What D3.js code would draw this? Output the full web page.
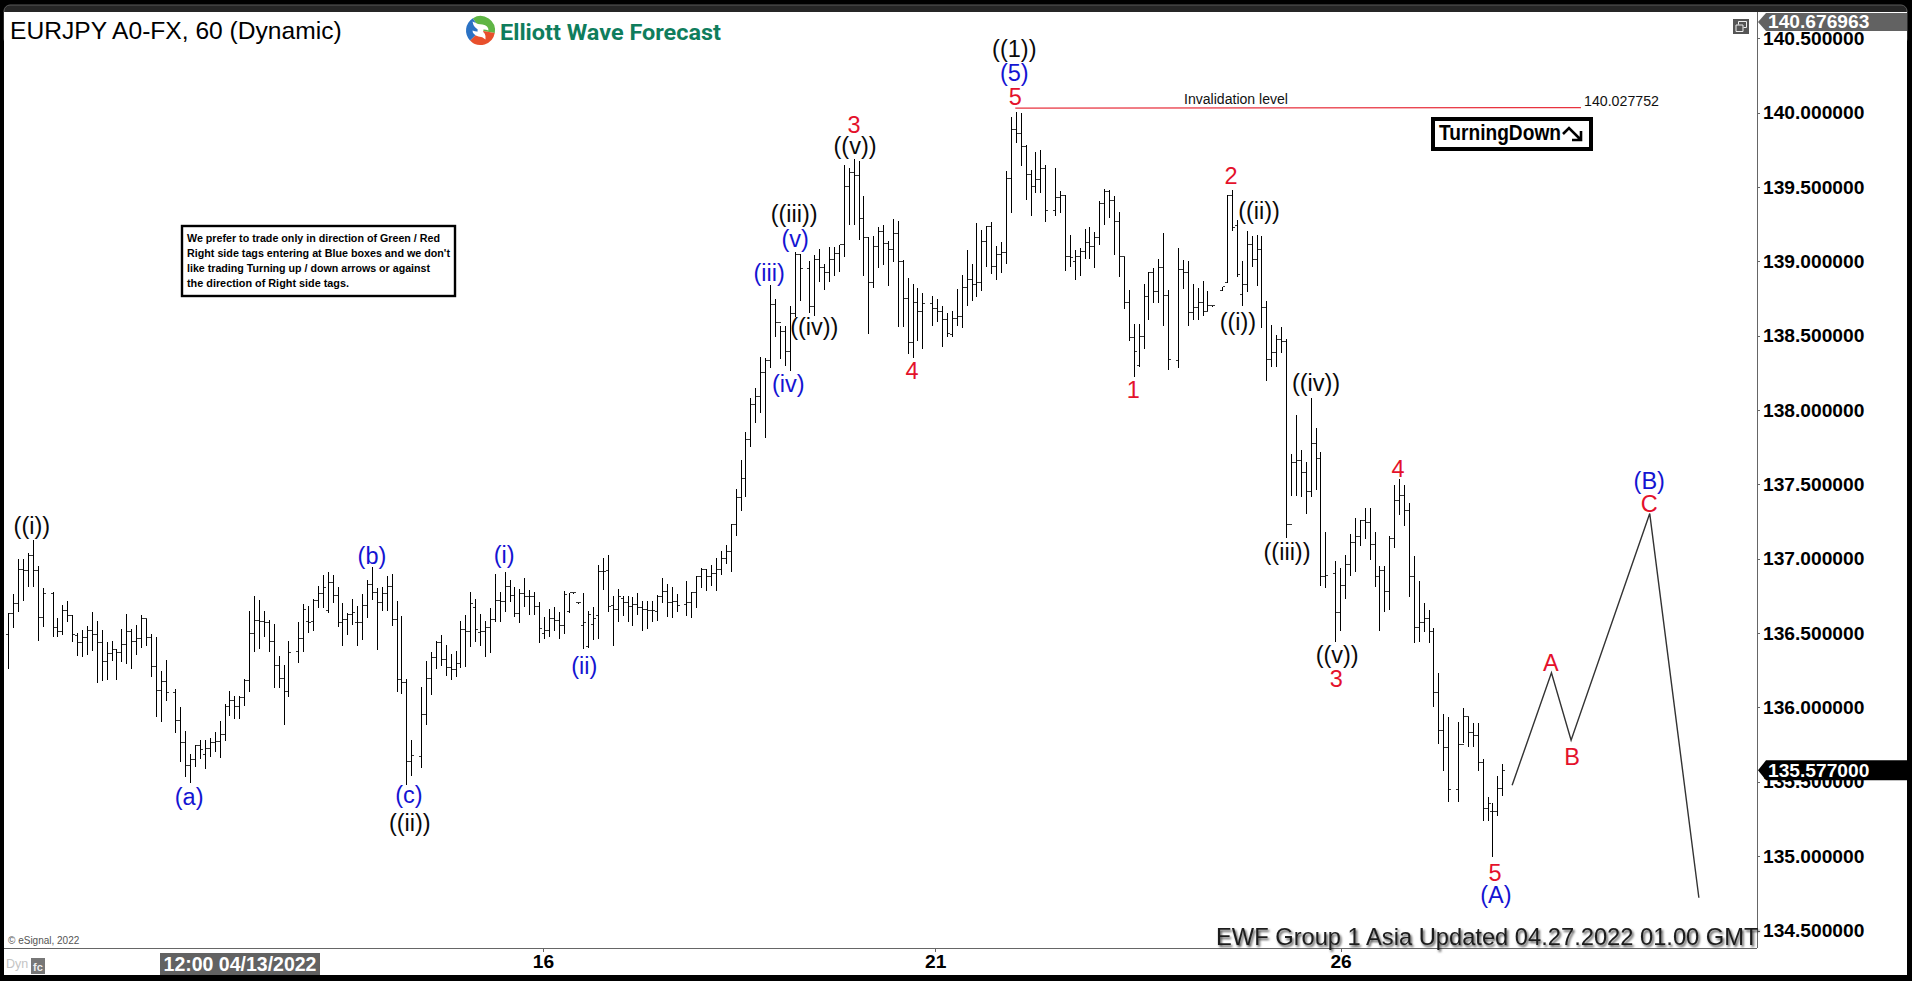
<!DOCTYPE html>
<html>
<head>
<meta charset="utf-8">
<title>EURJPY A0-FX, 60</title>
<script src="https://cdn.jsdelivr.net/npm/d3@7"></script>
<style>
  html, body { margin: 0; padding: 0; background: #000; overflow: hidden; }
  svg { display: block; }
  text { font-family: "Liberation Sans", Arial, sans-serif; }
</style>
</head>
<body>
<svg id="chart" width="1912" height="981"></svg>
<script>
// hourly bars, index 0 = first bar on the left, null = no bar on that slot
const barHigh = [
  136.636,136.763,136.999,136.999,137.039,137.129,136.954,136.804,null,136.775,
  136.602,136.692,136.714,136.624,136.501,136.524,136.550,136.642,136.584,136.524,
  136.441,136.450,136.394,136.530,136.629,136.530,136.557,136.624,136.597,136.494,
  136.474,136.243,136.322,null,136.125,136.004,135.840,135.690,135.750,135.780,
  135.784,135.795,135.836,135.912,136.024,136.113,136.075,136.075,136.194,136.651,
  136.752,136.725,136.651,136.591,136.564,136.344,136.288,136.450,null,136.575,
  136.698,136.685,136.732,136.819,136.889,136.911,136.893,136.808,136.703,136.636,
  136.732,136.680,136.763,136.860,136.945,136.804,136.810,136.882,136.898,136.719,
  136.613,136.194,135.784,null,136.138,136.315,136.373,136.450,136.490,136.423,
  136.362,136.382,136.584,136.624,136.777,136.732,136.629,136.584,136.669,136.898,
  136.779,136.911,136.860,136.810,136.799,136.871,136.792,136.777,136.712,136.609,
  136.662,136.678,136.645,136.784,136.770,136.770,136.703,136.770,136.649,136.678,
  136.961,137.005,137.028,136.752,136.799,136.748,136.748,136.743,136.770,136.719,
  136.714,136.719,136.759,136.871,136.833,136.810,136.766,null,136.851,136.777,
  136.887,136.938,136.934,136.958,137.005,137.055,137.095,137.234,137.472,137.667,
  137.853,138.082,138.149,138.357,138.351,138.843,138.747,138.563,138.563,138.702,
  139.061,139.050,null,139.001,139.041,139.084,138.985,139.097,139.097,139.113,
  139.651,139.628,139.691,139.673,139.442,139.162,139.173,139.229,139.247,139.135,
  139.285,139.270,139.008,138.889,138.849,138.822,138.784,null,138.770,138.750,
  138.703,138.654,138.663,138.817,138.909,139.079,138.985,139.259,139.209,139.241,
  139.265,139.102,139.133,139.610,139.971,140.007,139.998,139.781,139.617,139.736,
  139.749,139.649,null,139.628,139.472,139.447,139.176,139.073,139.091,139.218,
  139.232,139.198,139.404,139.489,139.478,139.442,139.333,139.028,138.810,138.582,
  138.582,138.849,138.929,138.956,139.017,139.191,138.810,null,139.090,139.011,
  139.005,138.850,138.823,138.866,138.803,138.702,null,138.828,139.448,139.482,
  139.276,139.005,139.206,139.168,139.180,139.173,138.736,138.575,138.507,138.559,
  138.480,137.705,137.969,137.734,137.651,138.081,137.879,137.716,137.180,null,
  136.988,136.938,137.026,137.167,137.274,137.263,137.342,137.342,137.180,136.949,
  136.949,137.151,137.498,137.537,137.498,137.375,137.017,136.851,136.703,136.658,
  136.535,136.232,135.957,135.937,null,135.903,135.999,135.937,135.896,135.896,
  135.650,135.399,135.358,135.542,135.623
];
const barLow = [
  136.266,136.539,136.647,136.725,136.815,136.815,136.456,136.546,null,136.479,
  136.479,136.494,136.580,136.445,136.355,136.344,136.362,136.389,136.169,136.187,
  136.194,136.322,136.194,136.311,136.299,136.264,136.362,136.405,136.418,136.210,
  135.945,135.907,136.053,null,135.833,135.638,135.538,135.497,135.605,135.661,
  135.591,135.672,135.706,135.665,135.780,135.952,135.932,135.927,136.015,136.109,
  136.382,136.400,136.479,136.378,136.138,136.138,135.892,136.075,null,136.304,
  136.378,136.506,136.519,136.674,136.674,136.640,136.707,136.546,136.423,136.497,
  136.562,136.423,136.461,136.609,136.730,136.396,136.658,136.654,136.557,136.109,
  136.098,135.486,135.546,null,135.598,135.892,136.093,136.266,136.284,136.221,
  136.194,136.210,136.270,136.282,136.411,136.445,136.423,136.344,136.376,136.580,
  136.580,136.647,136.714,136.613,136.573,136.680,136.627,136.627,136.438,136.468,
  136.479,136.524,136.465,136.503,136.640,136.770,136.703,136.398,136.405,136.463,
  136.465,136.795,136.647,136.423,136.580,136.624,136.580,136.557,136.627,136.519,
  136.537,136.580,136.586,136.707,136.618,136.606,136.647,null,136.624,136.606,
  136.674,136.808,136.788,136.824,136.788,136.896,136.972,136.916,137.162,137.326,
  137.420,137.756,137.918,137.985,137.817,138.290,138.496,138.351,138.306,138.267,
  138.630,138.738,null,138.658,138.642,138.866,138.817,138.866,138.911,138.938,
  139.034,139.252,139.254,139.153,138.911,138.515,138.828,138.961,138.985,138.844,
  139.001,138.564,138.568,138.385,138.355,138.470,138.414,null,138.575,138.597,
  138.434,138.497,138.497,138.575,138.557,138.705,138.743,138.766,138.806,138.967,
  138.922,138.878,138.927,138.990,139.330,139.803,139.646,139.420,139.315,139.465,
  139.465,139.270,null,139.310,139.330,138.940,138.967,138.878,138.911,139.023,
  139.023,138.961,139.117,139.254,139.297,139.052,138.900,138.683,138.470,138.228,
  138.295,138.414,138.609,138.725,138.725,138.575,138.273,null,138.288,138.821,
  138.574,138.615,138.615,138.642,138.675,138.702,null,138.805,138.859,139.213,
  138.899,138.704,138.799,138.967,138.843,138.557,138.200,138.294,138.294,138.388,
  137.147,137.431,137.431,137.420,137.308,137.425,137.469,136.826,136.808,null,
  136.445,136.524,136.734,136.889,136.916,137.095,137.140,137.001,136.815,136.519,
  136.647,136.665,137.077,137.299,137.225,136.748,136.441,136.445,136.517,136.438,
  136.008,135.762,135.578,135.370,null,135.370,135.766,135.739,135.744,135.582,
  135.246,135.242,135.000,135.275,135.410
];
const barOpen = [
  136.490,136.629,136.696,136.931,136.922,137.019,136.922,136.602,null,136.763,
  136.535,136.512,136.654,136.618,136.483,136.434,136.468,136.519,136.490,136.434,
  136.311,136.360,136.389,136.367,136.423,136.508,136.441,136.461,136.597,136.468,
  136.277,136.116,136.172,null,136.098,135.914,135.766,135.609,135.650,135.744,
  135.683,135.721,135.762,135.773,135.818,136.008,136.048,136.008,136.064,136.181,
  136.494,136.586,136.580,136.568,136.445,136.281,136.192,136.104,null,136.373,
  136.461,136.580,136.580,136.719,136.763,136.654,136.842,136.752,136.573,136.591,
  136.624,136.573,136.573,136.687,136.826,136.775,136.707,136.766,136.815,136.591,
  136.187,136.165,135.634,null,135.668,135.952,136.194,136.338,136.438,136.322,
  136.266,136.255,136.293,136.524,136.512,136.669,136.506,136.512,136.535,136.591,
  136.721,136.710,136.815,136.752,136.631,136.763,136.743,136.743,136.676,136.497,
  136.519,136.595,136.586,136.553,136.647,136.770,136.703,136.550,136.411,136.557,
  136.618,136.911,136.920,136.685,136.658,136.736,136.703,136.680,136.689,136.669,
  136.658,136.654,136.642,136.743,136.781,136.707,136.714,null,136.692,136.703,
  136.775,136.878,136.931,136.878,136.898,136.927,137.003,137.052,137.229,137.415,
  137.539,137.801,138.035,138.090,138.250,138.332,138.709,138.590,138.527,138.395,
  138.650,139.045,null,138.949,138.694,139.012,138.961,138.927,139.012,139.050,
  139.113,139.501,139.595,139.577,139.285,139.162,138.855,139.102,139.198,139.117,
  139.079,139.185,138.996,138.748,138.452,138.721,138.660,null,138.714,138.680,
  138.660,138.609,138.508,138.613,138.631,138.822,138.878,138.844,138.860,139.131,
  139.232,138.963,139.046,139.057,139.554,139.886,139.859,139.774,139.584,139.505,
  139.550,139.622,null,139.344,139.427,139.442,139.030,139.001,139.034,139.068,
  139.129,139.097,139.158,139.386,139.471,139.409,139.270,139.030,138.725,138.485,
  138.299,138.497,138.766,138.927,138.799,138.961,138.770,null,138.332,138.944,
  138.922,138.657,138.693,138.725,138.664,138.702,null,138.805,138.859,139.444,
  139.240,138.776,138.843,139.112,139.011,139.079,138.687,138.339,138.388,138.474,
  138.462,137.230,137.649,137.662,137.577,137.449,137.772,137.673,136.878,null,
  136.898,136.636,136.819,136.961,137.106,137.147,137.256,137.247,137.095,136.882,
  136.920,136.777,137.133,137.391,137.427,137.326,136.878,136.535,136.568,136.598,
  136.512,136.098,135.845,135.728,null,135.448,135.751,135.937,135.829,135.811,
  135.627,135.318,135.302,135.302,135.452
];
const barClose = [
  136.629,136.696,136.931,136.922,137.019,136.922,136.602,136.763,null,136.535,
  136.512,136.654,136.618,136.490,136.434,136.468,136.519,136.490,136.434,136.311,
  136.360,136.389,136.367,136.423,136.508,136.441,136.461,136.597,136.468,136.277,
  136.116,136.172,136.098,null,135.914,135.766,135.609,135.650,135.744,135.717,
  135.721,135.762,135.773,135.818,136.008,136.048,136.008,136.064,136.181,136.494,
  136.586,136.580,136.568,136.445,136.281,136.192,136.104,136.367,null,136.461,
  136.662,136.573,136.719,136.763,136.804,136.842,136.752,136.573,136.591,136.624,
  136.636,136.573,136.687,136.826,136.775,136.707,136.766,136.815,136.591,136.187,
  136.165,135.634,135.676,null,135.952,136.194,136.338,136.438,136.322,136.266,
  136.255,136.293,136.524,136.512,136.696,136.524,136.512,136.535,136.591,136.721,
  136.710,136.815,136.752,136.631,136.763,136.743,136.743,136.676,136.528,136.519,
  136.595,136.586,136.553,136.759,136.770,136.770,136.703,136.568,136.624,136.595,
  136.911,136.916,136.680,136.658,136.748,136.703,136.680,136.689,136.669,136.658,
  136.654,136.654,136.743,136.781,136.707,136.714,136.687,null,136.703,136.775,
  136.882,136.931,136.878,136.898,136.927,137.003,137.052,137.229,137.415,137.539,
  137.801,138.035,138.090,138.250,138.332,138.709,138.590,138.527,138.395,138.650,
  139.045,138.949,null,138.694,139.012,138.961,138.927,139.012,139.050,139.113,
  139.501,139.595,139.577,139.285,139.162,138.855,139.102,139.198,139.117,139.079,
  139.185,138.996,138.748,138.452,138.721,138.660,138.714,null,138.680,138.660,
  138.609,138.512,138.613,138.631,138.822,138.878,138.844,138.860,139.131,139.232,
  138.963,139.046,139.057,139.554,139.886,139.859,139.774,139.584,139.505,139.550,
  139.622,139.339,null,139.427,139.442,139.030,139.028,139.034,139.068,139.129,
  139.097,139.158,139.386,139.471,139.409,139.270,139.030,138.725,138.485,138.396,
  138.497,138.766,138.927,138.799,138.961,138.770,138.340,null,138.944,138.922,
  138.657,138.693,138.725,138.664,138.702,138.702,null,138.828,139.444,139.231,
  138.911,138.843,139.112,139.011,139.079,138.687,138.339,138.388,138.474,138.462,
  137.230,137.649,137.662,137.577,137.449,137.772,137.673,136.878,136.887,null,
  136.636,136.819,136.961,137.106,137.147,137.256,137.247,137.095,136.882,136.920,
  136.777,137.133,137.391,137.427,137.326,136.878,136.535,136.568,136.598,136.512,
  136.098,135.845,135.728,135.448,null,135.751,135.937,135.829,135.811,135.627,
  135.318,135.354,135.302,135.452,135.576
];

// projected path after the last bar, [bar index, price]
const projectionIndex = [306, 314, 318, 334, 344];
const projectionPrice = [135.477, 136.233, 135.780, 137.304, 134.720];

// wave counts: [label, bar index, price]
const blackWaves = [
  ["((i))", 4.8, 137.223], ["((ii))", 81.7, 135.226], ["((iii))", 159.9, 139.321],
  ["((iv))", 164, 138.561], ["((v))", 172.3, 139.778], ["((1))", 204.7, 140.430],
  ["((i))", 250.2, 138.595], ["((ii))", 254.5, 139.341], ["((iv))", 266.1, 138.185],
  ["((iii))", 260.2, 137.048], ["((v))", 270.4, 136.356]
];
const blueWaves = [
  ["(a)", 36.8, 135.401], ["(b)", 74, 137.021], ["(c)", 81.5, 135.414],
  ["(i)", 100.9, 137.028], ["(ii)", 117.2, 136.282], ["(iii)", 154.8, 138.924],
  ["(iv)", 158.7, 138.178], ["(v)", 160.1, 139.153], ["(5)", 204.7, 140.269],
  ["(A)", 302.7, 134.742], ["(B)", 333.9, 137.526]
];
const redWaves = [
  ["3", 172.1, 139.919], ["4", 183.9, 138.265], ["5", 204.9, 140.108],
  ["1", 228.9, 138.137], ["2", 248.8, 139.576], ["3", 270.2, 136.194],
  ["4", 282.8, 137.606], ["5", 302.5, 134.890], ["A", 313.9, 136.302],
  ["B", 318.2, 135.670], ["C", 333.9, 137.371]
];

const priceTicks = [134.5, 135, 135.5, 136, 136.5, 137, 137.5, 138, 138.5, 139, 139.5, 140, 140.5];
const dayTickIndex = [108.8, 188.6, 271.1];
const dayTickLabels = ["16", "21", "26"];

const invalidationPrice = 140.027752;
const invalidationFrom = 204.9;
const invalidationTo = 320;
const lastPrice = 135.577;
const topPrice = 140.676963;

const noteLines = [
  "We prefer to trade only in direction of Green / Red",
  "Right side tags entering at Blue boxes and we don't",
  "like trading Turning up / down arrows or against",
  "the direction of Right side tags."
];

// Initial values
const plotLeft = 4,
  plotRight = 1757,
  panelRight = 1907,
  plotTop = 12,
  plotBottom = 948,
  panelBottom = 975,
  tickHalf = 2.4,
  waveFontSize = 23.5,
  noteWidths = [253, 263, 243, 162], // measured line widths, the box font runs narrow
  axisGrey = "#666",
  tagGrey = "#626262",
  blue = "#1414d2",
  red = "#e4112b";

const xScale = d3.scaleLinear().domain([0, 304]).range([8.3, 1502.3]);
const yScale = d3.scaleLinear().domain([134.5, 140.5]).range([930.5, 38.3]);

const svg = d3.select("#chart");

// Window frame
svg.append("rect").attr("x", 0).attr("y", 0).attr("width", 1912).attr("height", 981).attr("fill", "#000");
svg.append("rect")
  .attr("x", plotLeft).attr("y", 5)
  .attr("width", panelRight - plotLeft).attr("height", 40).attr("rx", 6)
  .attr("fill", "#262626").attr("stroke", "#5a5a5a").attr("stroke-width", 1);
svg.append("rect")
  .attr("x", plotLeft).attr("y", plotTop)
  .attr("width", panelRight - plotLeft).attr("height", panelBottom - plotTop)
  .attr("fill", "#fff");

// Axes
const yAxis = d3.axisRight(yScale)
  .tickValues(priceTicks)
  .tickFormat(d3.format(".6f"))
  .tickSize(3)
  .tickPadding(3);

const yAxisG = svg.append("g").attr("transform", "translate(" + plotRight + ",0)").call(yAxis);
yAxisG.select(".domain").remove();
yAxisG.selectAll("line").attr("stroke", axisGrey).attr("shape-rendering", "crispEdges");
yAxisG.selectAll("text")
  .attr("fill", "#000")
  .attr("font-size", 19.2)
  .attr("font-weight", "bold")
  .style("font-family", '"Liberation Sans", Arial, sans-serif');

const xAxis = d3.axisBottom(xScale)
  .tickValues(dayTickIndex)
  .tickFormat((d, i) => dayTickLabels[i])
  .tickSize(4)
  .tickPadding(2);

const xAxisG = svg.append("g").attr("transform", "translate(0," + plotBottom + ")").call(xAxis);
xAxisG.select(".domain").remove();
xAxisG.selectAll("line").attr("stroke", axisGrey).attr("shape-rendering", "crispEdges");
xAxisG.selectAll("text")
  .attr("fill", "#000")
  .attr("font-size", 19.2)
  .attr("font-weight", "bold")
  .style("font-family", '"Liberation Sans", Arial, sans-serif');

svg.append("line")
  .attr("x1", plotRight).attr("x2", plotRight)
  .attr("y1", plotTop).attr("y2", plotBottom)
  .attr("stroke", axisGrey).attr("shape-rendering", "crispEdges");
svg.append("line")
  .attr("x1", plotLeft).attr("x2", plotRight)
  .attr("y1", plotBottom).attr("y2", plotBottom)
  .attr("stroke", axisGrey).attr("shape-rendering", "crispEdges");

// Bars
const bars = barHigh
  .map((high, i) => ({ i: i, high: high, low: barLow[i], open: barOpen[i], close: barClose[i] }))
  .filter(d => d.high !== null);

const barX = d => Math.round(xScale(d.i)) + 0.5;

// Open / close ticks go first and a shade lighter, the stems sit on top
svg.append("g")
  .attr("stroke", "#3a3a3a")
  .attr("stroke-width", 1)
  .attr("fill", "none")
  .attr("shape-rendering", "crispEdges")
  .selectAll("path")
  .data(bars)
  .enter()
  .append("path")
  .attr("d", d =>
    "M" + (barX(d) - tickHalf) + "," + yScale(d.open) + "H" + barX(d) +
    "M" + barX(d) + "," + yScale(d.close) + "H" + (barX(d) + tickHalf));

svg.append("g")
  .attr("stroke", "#000")
  .attr("stroke-width", 1)
  .attr("shape-rendering", "crispEdges")
  .selectAll("line")
  .data(bars)
  .enter()
  .append("line")
  .attr("x1", barX)
  .attr("x2", barX)
  .attr("y1", d => yScale(d.high))
  .attr("y2", d => yScale(d.low) + 1);

// Projection
const projectionLine = d3.line()
  .x(d => xScale(d[0]))
  .y(d => yScale(d[1]));

svg.append("path")
  .datum(projectionIndex.map((v, i) => [v, projectionPrice[i]]))
  .attr("d", projectionLine)
  .attr("fill", "none")
  .attr("stroke", "#333")
  .attr("stroke-width", 1.4);

// Invalidation level
svg.append("line")
  .attr("x1", xScale(invalidationFrom)).attr("x2", xScale(invalidationTo))
  .attr("y1", yScale(invalidationPrice) - 0.4).attr("y2", yScale(invalidationPrice) - 0.9)
  .attr("stroke", "#e8333f")
  .attr("stroke-width", 1.2);
svg.append("text")
  .attr("x", 1236).attr("y", 99)
  .attr("text-anchor", "middle").attr("dominant-baseline", "central")
  .attr("font-size", 14).attr("textLength", 104).attr("lengthAdjust", "spacingAndGlyphs")
  .attr("fill", "#111")
  .text("Invalidation level");
svg.append("text")
  .attr("x", 1584).attr("y", 101)
  .attr("dominant-baseline", "central")
  .attr("font-size", 14.2).attr("fill", "#111")
  .text(d3.format(".6f")(invalidationPrice));

// Wave labels
const drawWaves = (rows, color) => {
  svg.append("g")
    .selectAll("text")
    .data(rows)
    .enter()
    .append("text")
    .attr("x", d => xScale(d[1]))
    .attr("y", d => yScale(d[2]))
    .attr("text-anchor", "middle")
    .attr("dominant-baseline", "central")
    .attr("font-size", waveFontSize)
    .attr("fill", color)
    .text(d => d[0]);
};
drawWaves(blackWaves, "#0a0a0a");
drawWaves(blueWaves, blue);
drawWaves(redWaves, red);

// Title and logo
svg.append("text")
  .attr("x", 10).attr("y", 30)
  .attr("dominant-baseline", "central")
  .attr("font-size", 24.6).attr("fill", "#000")
  .text("EURJPY A0-FX, 60 (Dynamic)");

// three blades with a white swirl cut through them
const logoArc = d3.arc().innerRadius(3).outerRadius(14.5);
const logoG = svg.append("g").attr("transform", "translate(480.5,30.5)");
[[-0.55, 1.75, "#5fb545"], [1.75, 3.95, "#e8502c"], [3.95, 5.73, "#2b72c4"]].forEach(seg => {
  logoG.append("path")
    .attr("d", logoArc({ startAngle: seg[0], endAngle: seg[1] }))
    .attr("fill", seg[2]);
});
logoG.append("path")
  .attr("d", "M0,0Q-7,-2 -8,-9Q-3,-6 2,-6Q8,-5 8,0Q3,-2 0,0M0,0Q6,2 5,9Q2,6 -2,6Q-8,4 -8,0Q-3,2 0,0")
  .attr("fill", "#fff");

svg.append("text")
  .attr("x", 500).attr("y", 32)
  .attr("dominant-baseline", "central")
  .attr("font-size", 22).attr("font-weight", "bold")
  .attr("textLength", 221).attr("lengthAdjust", "spacingAndGlyphs")
  .attr("fill", "#0f7d5c")
  .style("font-family", "Roboto, sans-serif")
  .text("Elliott Wave Forecast");

// Note box
svg.append("rect")
  .attr("x", 182).attr("y", 226).attr("width", 273).attr("height", 70)
  .attr("fill", "#fff").attr("stroke", "#000").attr("stroke-width", 2.4);
svg.append("g")
  .selectAll("text")
  .data(noteLines)
  .enter()
  .append("text")
  .attr("x", 187)
  .attr("y", (d, i) => 238 + i * 15)
  .attr("dominant-baseline", "central")
  .attr("font-size", 11.2)
  .attr("font-weight", "bold")
  .attr("textLength", (d, i) => noteWidths[i])
  .attr("lengthAdjust", "spacingAndGlyphs")
  .attr("fill", "#000")
  .text(d => d);

// TurningDown box
svg.append("rect")
  .attr("x", 1433).attr("y", 119).attr("width", 158).attr("height", 30)
  .attr("fill", "#fff").attr("stroke", "#000").attr("stroke-width", 4);
svg.append("text")
  .attr("x", 1439).attr("y", 133)
  .attr("dominant-baseline", "central")
  .attr("font-size", 21.5).attr("font-weight", "bold")
  .attr("textLength", 122).attr("lengthAdjust", "spacingAndGlyphs")
  .attr("fill", "#000")
  .text("TurningDown");
svg.append("path")
  .attr("d", "M1563,134L1569,128L1581,140M1581,131V140H1572")
  .attr("fill", "none").attr("stroke", "#000").attr("stroke-width", 2.6);

// Price tags
svg.append("path")
  .attr("d", "M1758,22L1766,13H1907V31H1766Z")
  .attr("fill", tagGrey);
svg.append("text")
  .attr("x", 1768).attr("y", 21.5)
  .attr("dominant-baseline", "central")
  .attr("font-size", 19.2).attr("font-weight", "bold").attr("fill", "#fff")
  .text(d3.format(".6f")(topPrice));

const lastY = yScale(lastPrice);
svg.append("path")
  .attr("d", "M1758," + lastY + "L1766," + (lastY - 10) + "H1907V" + (lastY + 10) + "H1766Z")
  .attr("fill", "#000");
svg.append("text")
  .attr("x", 1768).attr("y", lastY)
  .attr("dominant-baseline", "central")
  .attr("font-size", 19.2).attr("font-weight", "bold").attr("fill", "#fff")
  .text(d3.format(".6f")(lastPrice));

// Cursor date tag
svg.append("rect")
  .attr("x", 160).attr("y", 953).attr("width", 160).attr("height", 22)
  .attr("fill", tagGrey);
svg.append("text")
  .attr("x", 240).attr("y", 964)
  .attr("text-anchor", "middle").attr("dominant-baseline", "central")
  .attr("font-size", 19.5).attr("font-weight", "bold").attr("fill", "#fff")
  .text("12:00 04/13/2022");

// Small furniture
svg.append("text")
  .attr("x", 8).attr("y", 940)
  .attr("dominant-baseline", "central")
  .attr("font-size", 10).attr("fill", "#555")
  .text("© eSignal, 2022");
svg.append("text")
  .attr("x", 6).attr("y", 964)
  .attr("dominant-baseline", "central")
  .attr("font-size", 12.5).attr("fill", "#c4c4c4")
  .text("Dyn");
svg.append("rect")
  .attr("x", 31).attr("y", 958).attr("width", 14).attr("height", 16)
  .attr("fill", "#777");
svg.append("text")
  .attr("x", 38).attr("y", 966.5)
  .attr("text-anchor", "middle").attr("dominant-baseline", "central")
  .attr("font-size", 11).attr("font-weight", "bold").attr("fill", "#eee")
  .text("fc");

svg.append("rect")
  .attr("x", 1733).attr("y", 19).attr("width", 16).attr("height", 15)
  .attr("fill", "#555");
svg.append("path")
  .attr("d", "M1738.5,24.5V21.5H1746.5V27.5H1743.5M1736,25H1743V31.5H1736Z")
  .attr("fill", "none").attr("stroke", "#eee").attr("stroke-width", 1);

// Update stamp
const defs = svg.append("defs");
const shadow = defs.append("filter").attr("id", "stampShadow").attr("x", "-5%").attr("y", "-30%").attr("width", "110%").attr("height", "160%");
shadow.append("feDropShadow")
  .attr("dx", 1.5).attr("dy", 2).attr("stdDeviation", 1.2)
  .attr("flood-color", "#000").attr("flood-opacity", 0.7);

svg.append("text")
  .attr("x", 1216).attr("y", 937)
  .attr("dominant-baseline", "central")
  .attr("font-size", 23.7)
  .attr("fill", "#1c1c1c")
  .attr("filter", "url(#stampShadow)")
  .text("EWF Group 1 Asia Updated 04.27.2022 01.00 GMT");
</script>
</body>
</html>
